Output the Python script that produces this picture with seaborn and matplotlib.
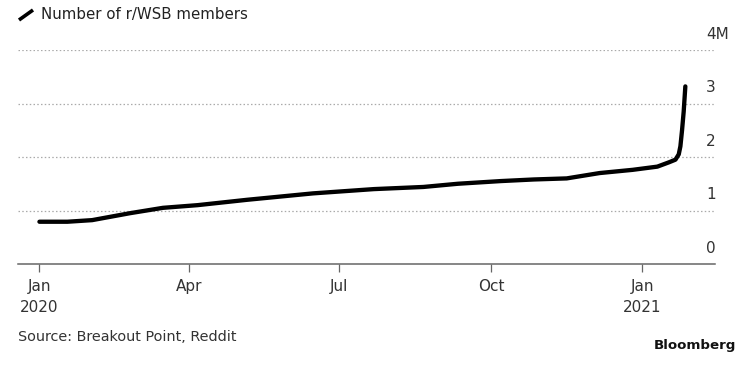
import pandas as pd
import numpy as np
import matplotlib.pyplot as plt
import matplotlib.dates as mdates
from matplotlib.lines import Line2D
import seaborn as sns

# Data (members, millions)
dates = ["2020-01-01", "2020-01-18", "2020-02-02", "2020-02-25", "2020-03-16",
         "2020-04-06", "2020-05-06", "2020-06-15", "2020-07-22", "2020-08-21",
         "2020-09-11", "2020-10-07", "2020-10-27", "2020-11-16", "2020-12-06",
         "2020-12-26", "2021-01-10", "2021-01-17", "2021-01-21", "2021-01-23",
         "2021-01-24", "2021-01-25", "2021-01-26", "2021-01-27"]
members = [0.79, 0.79, 0.82, 0.95, 1.05,
           1.10, 1.20, 1.32, 1.40, 1.44,
           1.50, 1.55, 1.58, 1.60, 1.70,
           1.76, 1.82, 1.90, 1.95, 2.05,
           2.20, 2.50, 2.85, 3.32]
y_ticks = [0, 1, 2, 3, 4]
y_labels = ["0", "1", "2", "3", "4M"]
x_ticks = ["2020-01-01", "2020-04-01", "2020-07-01", "2020-10-01", "2021-01-01"]
x_labels = ["Jan\n2020", "Apr", "Jul", "Oct", "Jan\n2021"]

df = pd.DataFrame({"date": pd.to_datetime(dates), "members": members})

sns.set_style("white")
plt.rcParams['font.family'] = ['DejaVu Sans']

fig = plt.figure(figsize=(7.56, 3.68), dpi=100)
ax = fig.add_axes([18 / 756, 1 - 264 / 368, (715 - 18) / 756, (264 - 50) / 368])

sns.lineplot(data=df, x="date", y="members", color="black", linewidth=3.1, ax=ax)

ax.set_xlim(pd.Timestamp("2019-12-19"), pd.Timestamp("2021-02-14"))
ax.set_ylim(0, 4)

# dotted gridlines
for t in y_ticks[1:]:
    ax.axhline(t, color="#aaaaaa", linestyle=(0, (1.2, 1.8)), linewidth=0.9, zorder=0)

# y labels sit above the gridlines, near the right edge
for t, lab in zip(y_ticks, y_labels):
    ax.text(0.987, t + 0.15, lab, transform=ax.get_yaxis_transform(),
            ha="left", va="bottom", fontsize=11, color="#333333", clip_on=False)
ax.set_yticks([])

ax.set_xticks(pd.to_datetime(x_ticks))
ax.set_xticklabels(x_labels, fontsize=11, color="#333333", linespacing=1.45)
ax.tick_params(axis="x", direction="out", length=6, width=0.9, color="#666666", pad=5, bottom=True)

for s in ["top", "right", "left"]:
    ax.spines[s].set_visible(False)
ax.spines["bottom"].set_color("#666666")
ax.spines["bottom"].set_linewidth(1.1)
ax.set_xlabel("")
ax.set_ylabel("")

# legend-like title
fig.add_artist(Line2D([19 / 756, 33 / 756], [1 - 20 / 368, 1 - 10 / 368],
                      color="black", linewidth=2.6, solid_capstyle="butt",
                      transform=fig.transFigure))
fig.text(41 / 756, 1 - 15 / 368, "Number of r/WSB members", fontsize=10.8,
         color="#222222", va="center", ha="left")

fig.text(18 / 756, 1 - 337 / 368, "Source: Breakout Point, Reddit", fontsize=10.4,
         color="#333333", va="center", ha="left")
fig.text(736 / 756, 1 - 345 / 368, "Bloomberg", fontsize=9.6, fontweight="bold",
         color="#111111", va="center", ha="right")

fig.savefig("out.png", dpi=100)
